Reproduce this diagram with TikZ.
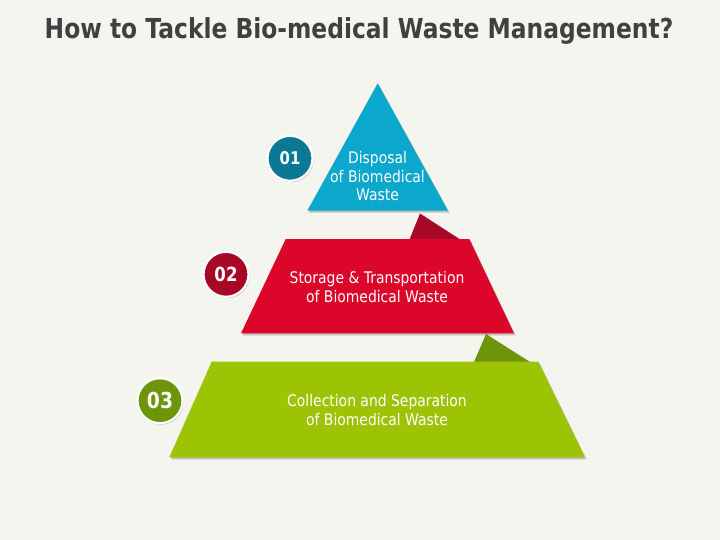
\documentclass[tikz,border=0pt]{standalone}
\usepackage{fontspec}
\usetikzlibrary{shadows}
\newfontfamily\titlefont[FakeStretch=0.85]{DejaVu Sans}
\newfontfamily\lblfont[FakeStretch=0.87]{DejaVu Sans}
\definecolor{bgc}{HTML}{F5F5F0}
\definecolor{titlec}{HTML}{404040}
\definecolor{bluec}{HTML}{0CA7CC}
\definecolor{bluedk}{HTML}{0B7996}
\definecolor{redc}{HTML}{DC062B}
\definecolor{reddk}{HTML}{A60826}
\definecolor{greenc}{HTML}{9DC305}
\definecolor{greendk}{HTML}{6E940A}
\tikzset{
  shadowed/.style={drop shadow={opacity=0.22, shadow xshift=1.5pt, shadow yshift=-2pt, fill=black}},
  numcirc/.style={circle, minimum size=45pt, inner sep=0pt, draw=white, line width=2.2pt,
    text=white, font=\titlefont\bfseries,
    drop shadow={opacity=0.22, shadow xshift=1pt, shadow yshift=-1.5pt, fill=black}},
  lbl/.style={align=center, text=white, inner sep=0pt, anchor=base,
    font=\lblfont\fontsize{16}{18.6}\selectfont},
}
\begin{document}
\begin{tikzpicture}[x=1pt,y=-1pt]
\fill[bgc] (0,0) rectangle (720,540);
\useasboundingbox (0,0) rectangle (720,540);

\node[anchor=base, text=titlec, inner sep=0pt, font=\titlefont\bfseries\fontsize{27.5}{30}\selectfont]
  (title) at (359,38.3) {How to Tackle Bio-medical Waste Management?};

% folds
\coordinate (f1a) at (420,213.5);
\coordinate (f1b) at (409.3,240);
\coordinate (f1c) at (461,240);
\fill[reddk] (f1a) -- (f1b) -- (f1c) -- cycle;
\coordinate (f2a) at (486,334);
\coordinate (f2b) at (474,362);
\coordinate (f2c) at (530,362);
\fill[greendk] (f2a) -- (f2b) -- (f2c) -- cycle;

% tiers
\coordinate (t1a) at (377.7,83.3);
\coordinate (t1b) at (307.3,210.7);
\coordinate (t1c) at (448,210.7);
\fill[bluec, shadowed] (t1a) -- (t1b) -- (t1c) -- cycle;

\coordinate (t2a) at (285.7,239);
\coordinate (t2b) at (469.3,239);
\coordinate (t2c) at (514,333.3);
\coordinate (t2d) at (241,333.3);
\fill[redc, shadowed] (t2a) -- (t2b) -- (t2c) -- (t2d) -- cycle;

\coordinate (t3a) at (211.7,361.7);
\coordinate (t3b) at (538.3,361.7);
\coordinate (t3c) at (585,457.3);
\coordinate (t3d) at (169.3,457.3);
\fill[greenc, shadowed] (t3a) -- (t3b) -- (t3c) -- (t3d) -- cycle;

% labels (anchor = baseline of the last line)
\node[lbl] (l1) at (377.5,200.7) {Disposal\\of Biomedical\\Waste};
\node[lbl] (l2) at (377,302.3) {Storage \& Transportation\\of Biomedical Waste};
\node[lbl] (l3) at (377,425) {Collection and Separation\\of Biomedical Waste};

% number circles
\node[numcirc, fill=bluedk, font=\titlefont\bfseries\fontsize{17.5}{20}\selectfont] (n1) at (290,158.3) {01};
\node[numcirc, fill=reddk, font=\titlefont\bfseries\fontsize{19.5}{22}\selectfont] (n2) at (226,274.3) {02};
\node[numcirc, fill=greendk, font=\titlefont\bfseries\fontsize{22}{24}\selectfont] (n3) at (160,400.7) {03};
\end{tikzpicture}
\end{document}
